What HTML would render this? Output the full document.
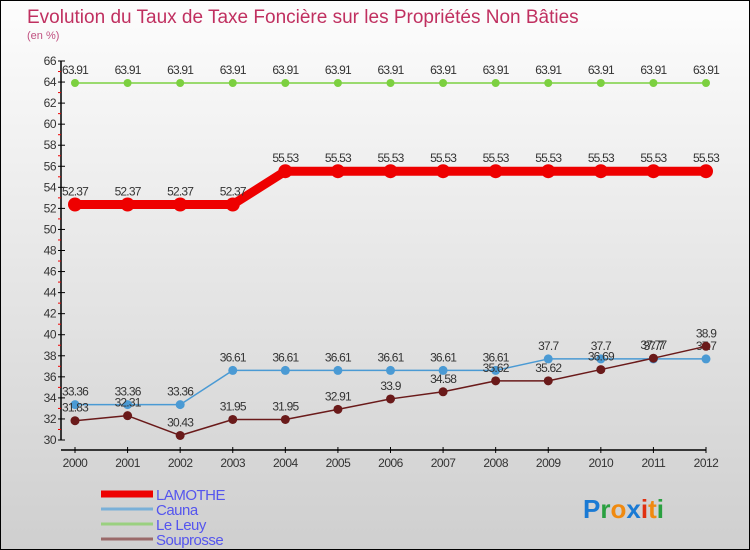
<!DOCTYPE html>
<html><head><meta charset="utf-8"><style>
html,body{margin:0;padding:0}
body{width:750px;height:550px;overflow:hidden;font-family:"Liberation Sans",sans-serif}
#wrap{position:relative;width:748px;height:548px;border:1px solid #000;background:linear-gradient(#fdfdfd,#cfcfcf)}
svg{position:absolute;left:0;top:0}
</style></head><body>
<div id="wrap">
<svg id="chart" width="748" height="548">
<text x="26" y="22" font-size="19" fill="#c03060">Evolution du Taux de Taxe Foncière sur les Propriétés Non Bâties</text>
<text x="26" y="38" font-size="11" fill="#c05080">(en %)</text>
</svg>
</div>
<script>
const years=[2000,2001,2002,2003,2004,2005,2006,2007,2008,2009,2010,2011,2012];
const lamothe=[52.37,52.37,52.37,52.37,55.53,55.53,55.53,55.53,55.53,55.53,55.53,55.53,55.53];
const cauna=[33.36,33.36,33.36,36.61,36.61,36.61,36.61,36.61,36.61,37.7,37.7,37.7,37.7];
const leleuy=[63.91,63.91,63.91,63.91,63.91,63.91,63.91,63.91,63.91,63.91,63.91,63.91,63.91];
const souprosse=[31.83,32.31,30.43,31.95,31.95,32.91,33.9,34.58,35.62,35.62,36.69,37.77,38.9];
const yTicks=[30,32,34,36,38,40,42,44,46,48,50,52,54,56,58,60,62,64,66];
const seriesNames=["LAMOTHE","Cauna","Le Leuy","Souprosse"];

const svg=document.getElementById('chart');
const NS='http://www.w3.org/2000/svg';
const X=i=>74+i*(705-74)/(years.length-1);
const Y=v=>439-(v-30)*(439-60)/(66-30);
function mk(t,a,p){const e=document.createElementNS(NS,t);for(const k in a)e.setAttribute(k,a[k]);(p||svg).appendChild(e);return e;}

// axes
let ya=mk('line',{x1:60,y1:Y(66),x2:60,y2:Y(30),stroke:'#000','stroke-width':1.5});


let xa=mk('line',{x1:60,y1:449,x2:705,y2:449,stroke:'#000','stroke-width':1.5});


yTicks.forEach(v=>{
  mk('line',{x1:57,y1:Y(v),x2:64,y2:Y(v),stroke:'#000'});
  if(v<66) mk('line',{x1:57,y1:Y(v+1),x2:60,y2:Y(v+1),stroke:'#e00'});
  const t=mk('text',{x:55,y:Y(v)+4,'text-anchor':'end','font-size':12,fill:'#333','letter-spacing':'-0.5'});
  t.textContent=v;
  
  
});
years.forEach((y,i)=>{
  mk('line',{x1:X(i),y1:446,x2:X(i),y2:452,stroke:'#000'});
  const t=mk('text',{x:X(i),y:466,'text-anchor':'middle','font-size':12,fill:'#333','letter-spacing':'-0.5'});
  t.textContent=y;
  
  
});

function series(vals,color,w,r,name){
  const g=mk('g',{});
  
  
  mk('polyline',{points:vals.map((v,i)=>X(i)+','+Y(v)).join(' '),fill:'none',stroke:color,'stroke-width':w,'stroke-linejoin':'round'},g);
  vals.forEach((v,i)=>{
    const c=mk('circle',{cx:X(i),cy:Y(v),r:r,fill:color},g);
    
    
    const t=mk('text',{x:X(i),y:Y(v)-9,'text-anchor':'middle','font-size':12,fill:'#333','letter-spacing':'-0.8'},g);
    t.textContent=v;
    
    
  });
}
series(leleuy,'#7cd040',1.5,4,'series-le-leuy');
series(lamothe,'#ee0000',9,7,'series-lamothe');
series(cauna,'#4a9ad4',1.5,4.5,'series-cauna');
series(souprosse,'#6a1a1a',1.5,4.5,'series-souprosse');

const legColors=['#ee0000','#7ab0d8','#9ad080','#9a6a6a'];
const legW=[7,3,3,3];
seriesNames.forEach((n,i)=>{
  const y=493+i*15;
  const l=mk('line',{x1:100,y1:y,x2:152,y2:y,stroke:legColors[i],'stroke-width':legW[i]});
  
  
  const t=mk('text',{x:155,y:y+6,'font-size':15,fill:'#5555ee','letter-spacing':'-0.5'});
  t.textContent=n;
  
  
});
const logo=mk('text',{x:582,y:517,'font-size':26,'font-weight':'bold'});


[['P','#1a7ad4'],['r','#2aa040'],['o','#f08a10'],['x','#1a7ad4'],['i','#e03010'],['t','#f08a10'],['i','#2aa040']].forEach(([c,f])=>{
  const s=mk('tspan',{fill:f},logo);s.textContent=c;
});
</script>
</body></html>
